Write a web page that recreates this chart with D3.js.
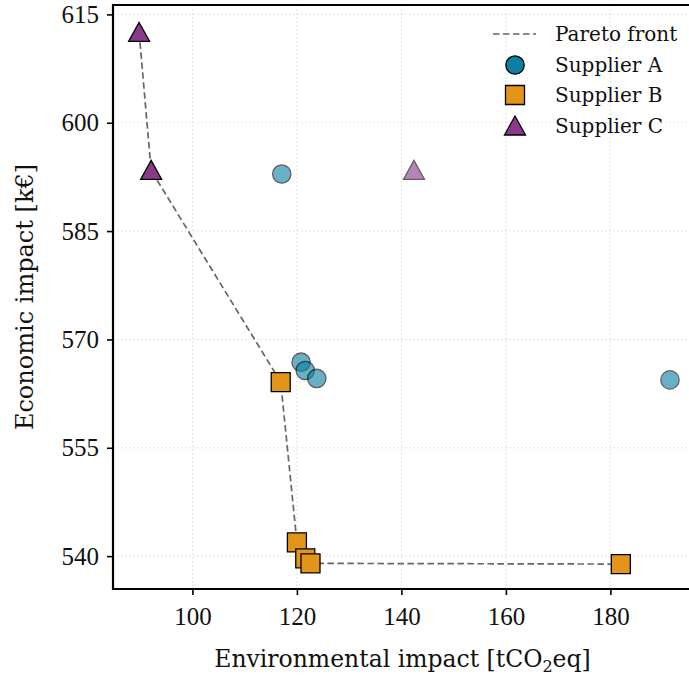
<!DOCTYPE html>
<html>
<head>
<meta charset="utf-8">
<script src="https://cdn.jsdelivr.net/npm/d3@7"></script>
<style>
  body { margin: 0; background: #fff; }
  text { font-family: "DejaVu Serif", serif; fill: #111; }
</style>
</head>
<body>
<script>
    // values
    const supplierA_x = [117.1, 120.8, 121.6, 123.8, 191.4],
          supplierA_y = [592.9, 566.85, 565.7, 564.6, 564.4],
          supplierA_pareto = [false, false, false, false, false];
    const supplierB_x = [116.9, 120.0, 121.6, 122.6, 182.0],
          supplierB_y = [564.1, 541.9, 539.7, 539.0, 538.9],
          supplierB_pareto = [true, true, true, true, true];
    const supplierC_x = [89.8, 92.1, 142.4],
          supplierC_y = [612.5, 593.4, 593.4],
          supplierC_pareto = [true, true, false];

    const xTicks = [100, 120, 140, 160, 180],
          yTicks = [540, 555, 570, 585, 600, 615];

    const W = 689, H = 678;
    const plotL = 113, plotT = 5, plotB = 589, plotR = 694;

    const svg = d3.select("body").append("svg")
        .attr("width", W)
        .attr("height", H);

    const x = d3.scaleLinear().domain([84.8, 196]).range([plotL, plotR]);
    const y = d3.scaleLinear().domain([535.45, 616.3]).range([plotB, plotT]);

    const series = [
        {name: "Supplier A", shape: "circle", color: "#0b80a3",
            pts: supplierA_x.map((v, i) => ({x: v, y: supplierA_y[i], p: supplierA_pareto[i]}))},
        {name: "Supplier B", shape: "square", color: "#e3951a",
            pts: supplierB_x.map((v, i) => ({x: v, y: supplierB_y[i], p: supplierB_pareto[i]}))},
        {name: "Supplier C", shape: "triangle", color: "#8b3a8b",
            pts: supplierC_x.map((v, i) => ({x: v, y: supplierC_y[i], p: supplierC_pareto[i]}))}
    ];

    // grid
    svg.append("g").selectAll("line").data(xTicks).enter().append("line")
        .attr("x1", d => x(d)).attr("x2", d => x(d))
        .attr("y1", plotT).attr("y2", plotB)
        .attr("stroke", "#d9d9d9").attr("stroke-width", 1).attr("stroke-dasharray", "1.5,2.5");
    svg.append("g").selectAll("line").data(yTicks).enter().append("line")
        .attr("x1", plotL).attr("x2", plotR)
        .attr("y1", d => y(d)).attr("y2", d => y(d))
        .attr("stroke", "#d9d9d9").attr("stroke-width", 1).attr("stroke-dasharray", "1.5,2.5");

    // pareto front line
    const front = series.flatMap(s => s.pts.filter(p => p.p)).sort((a, b) => a.x - b.x);
    svg.append("path")
        .datum(front)
        .attr("fill", "none")
        .attr("stroke", "#666")
        .attr("stroke-width", 1.7)
        .attr("stroke-dasharray", "6.5,3.5")
        .attr("d", d3.line().x(d => x(d.x)).y(d => y(d.y)));

    function shapePath(shape) {
        if (shape === "circle") return d3.symbol(d3.symbolCircle, 265)();
        if (shape === "square") return d3.symbol(d3.symbolSquare, 361)();
        return "M0,-10L10.5,9L-10.5,9Z";
    }

    // markers
    series.forEach(s => {
        svg.append("g").selectAll("path").data(s.pts).enter().append("path")
            .attr("d", shapePath(s.shape))
            .attr("transform", d => `translate(${x(d.x)},${y(d.y)})`)
            .attr("fill", s.color)
            .attr("stroke", "#000")
            .attr("stroke-width", 1.3)
            .attr("opacity", d => d.p ? 1 : 0.62);
    });

    // axes
    const xAxis = svg.append("g").attr("transform", `translate(0,${plotB})`)
        .call(d3.axisBottom(x).tickValues(xTicks).tickSize(6).tickPadding(12).tickFormat(d3.format("d")));
    const yAxis = svg.append("g").attr("transform", `translate(${plotL},0)`)
        .call(d3.axisLeft(y).tickValues(yTicks).tickSize(6).tickPadding(8).tickFormat(d3.format("d")));
    [xAxis, yAxis].forEach(a => {
        a.select(".domain").remove();
        a.selectAll(".tick line").attr("stroke", "#000").attr("stroke-width", 1.6);
        a.selectAll(".tick text")
            .style("font-family", "'Liberation Serif', 'Times New Roman', serif")
            .attr("font-size", 25).attr("fill", "#111");
    });

    // spines: left, bottom, top
    svg.append("line").attr("x1", plotL).attr("x2", plotL).attr("y1", plotT - 1).attr("y2", plotB + 1)
        .attr("stroke", "#000").attr("stroke-width", 2.2);
    svg.append("line").attr("x1", plotL - 1).attr("x2", plotR).attr("y1", plotB).attr("y2", plotB)
        .attr("stroke", "#000").attr("stroke-width", 2.2);
    svg.append("line").attr("x1", plotL - 1).attr("x2", plotR).attr("y1", plotT).attr("y2", plotT)
        .attr("stroke", "#000").attr("stroke-width", 2.2);

    // axis labels
    const xl = svg.append("text")
        .attr("x", (plotL + plotR) / 2 - 1).attr("y", 667)
        .attr("text-anchor", "middle").attr("font-size", 23.5);
    xl.append("tspan").text("Environmental impact [tCO");
    xl.append("tspan").attr("font-size", 16).attr("dy", 5).text("2");
    xl.append("tspan").attr("dy", -5).text("eq]");

    svg.append("text")
        .attr("transform", `translate(33,${(plotT + plotB) / 2}) rotate(-90)`)
        .attr("text-anchor", "middle").attr("font-size", 24)
        .text("Economic impact [k€]");

    // legend
    const lg = svg.append("g");
    const rows = [34, 65, 95, 126];
    lg.append("line").attr("x1", 493).attr("x2", 536).attr("y1", rows[0]).attr("y2", rows[0])
        .attr("stroke", "#666").attr("stroke-width", 1.7).attr("stroke-dasharray", "6.5,3.5");
    lg.append("text").attr("x", 555).attr("y", rows[0] + 7).attr("font-size", 20).text("Pareto front");
    series.forEach((s, i) => {
        lg.append("path").attr("d", shapePath(s.shape))
            .attr("transform", `translate(515,${rows[i + 1]})`)
            .attr("fill", s.color).attr("stroke", "#000").attr("stroke-width", 1.3);
        lg.append("text").attr("x", 555).attr("y", rows[i + 1] + 7).attr("font-size", 20).text(s.name);
    });
</script>
</body>
</html>
